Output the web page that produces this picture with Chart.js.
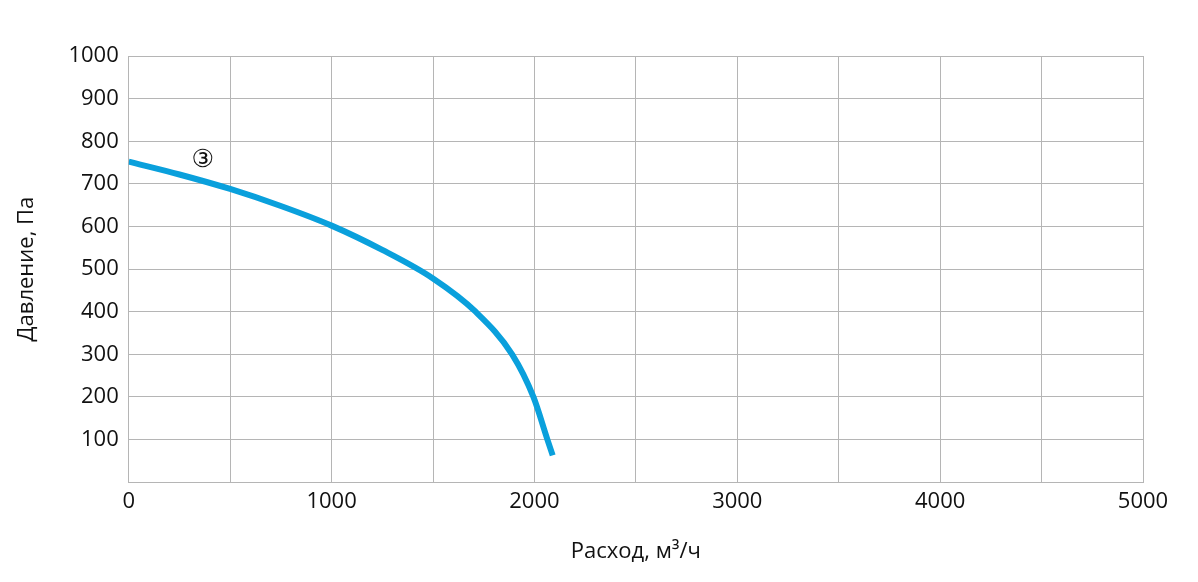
<!DOCTYPE html>
<html>
<head>
<meta charset="utf-8">
<script src="https://cdn.jsdelivr.net/npm/chart.js@4/dist/chart.umd.min.js"></script>
<style>
  html, body { margin: 0; padding: 0; background: #fff; }
  #wrap { width: 1198px; height: 582px; }
</style>
</head>
<body>
<div id="wrap"><canvas id="fan-chart"></canvas></div>
<script>
// fan curve
var flow = [0, 250, 500, 750, 1000, 1250, 1500, 1710, 1890, 1995, 2064, 2090];
var pressure = [752, 722, 688, 648, 602, 545, 478, 400, 300, 200, 100, 63];

var curveLabel = '\u2462';
var labelAt = [365, 755];

var ctx1 = document.getElementById('fan-chart').getContext('2d');

// draws the circled curve number next to the line
var curveMark = {
  id: 'curveMark',
  afterDatasetsDraw: function(chart) {
    var c = chart.ctx;
    var x = chart.scales.x.getPixelForValue(labelAt[0]);
    var y = chart.scales.y.getPixelForValue(labelAt[1]);
    c.save();
    c.font = '25px "DejaVu Sans"';
    c.fillStyle = '#111';
    c.textAlign = 'center';
    c.textBaseline = 'middle';
    c.fillText(curveLabel, x, y);
    c.restore();
  }
};

var gridColor = '#b5b5b5';
var tickFont = { family: '"Open Sans", sans-serif', size: 22 };

var lineChart = new Chart(ctx1, {
  type: 'line',
  data: {
    datasets: [{
      data: flow.map(function(q, i) { return { x: q, y: pressure[i] }; }),
      borderColor: '#0aa0dc',
      borderWidth: 6,
      pointRadius: 0,
      fill: false,
      cubicInterpolationMode: 'monotone'
    }]
  },
  options: {
    responsive: true,
    maintainAspectRatio: false,
    animation: false,
    layout: { padding: { top: 56, right: 55, left: 14, bottom: 17 } },
    plugins: {
      legend: { display: false },
      tooltip: { enabled: false }
    },
    scales: {
      x: {
        type: 'linear',
        min: 0,
        max: 5000,
        ticks: {
          stepSize: 500,
          color: '#111',
          font: tickFont,
          padding: 6,
          maxRotation: 0,
          autoSkip: false,
          callback: function(v) { return v % 1000 === 0 ? String(v) : ''; }
        },
        grid: { color: gridColor, drawTicks: false },
        border: { color: gridColor },
        title: {
          display: true,
          text: 'Расход, м³/ч',
          color: '#111',
          font: tickFont,
          padding: { top: 18, bottom: 0 }
        }
      },
      y: {
        min: 0,
        max: 1000,
        ticks: {
          stepSize: 100,
          color: '#111',
          font: tickFont,
          padding: 10,
          callback: function(v) { return v === 0 ? '' : String(v); }
        },
        grid: { color: gridColor, drawTicks: false },
        border: { color: gridColor },
        title: {
          display: true,
          text: 'Давление, Па',
          color: '#111',
          font: tickFont,
          padding: { top: 0, bottom: 18 }
        }
      }
    }
  },
  plugins: [curveMark]
});
</script>
</body>
</html>
